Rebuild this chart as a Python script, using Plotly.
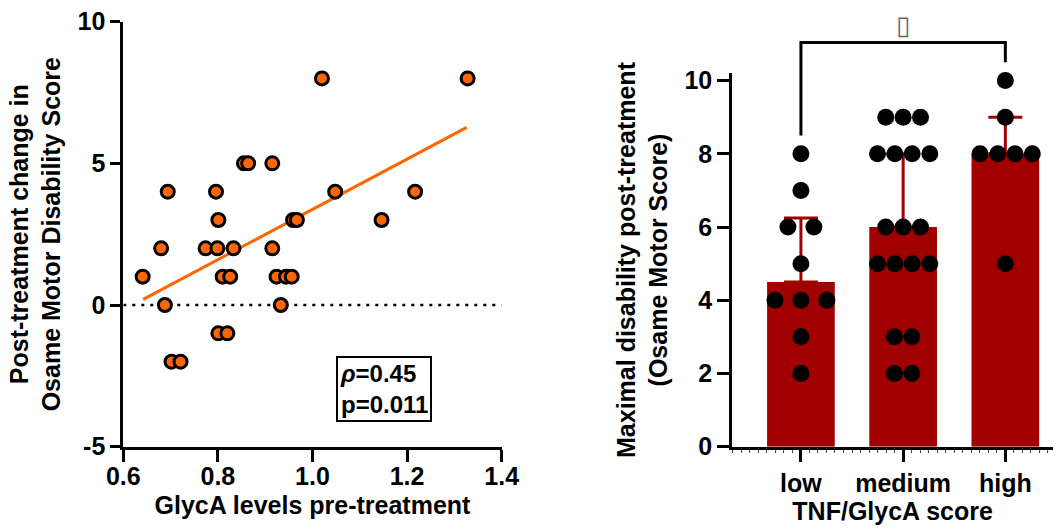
import plotly.graph_objects as go

# ---- left panel: GlycA pre-treatment vs change in Osame score ----
glyca = [1.020, 1.328, 0.855, 0.864, 0.915,
         0.694, 0.796, 1.048, 1.217,
         0.801, 0.959, 0.967, 1.146,
         0.680, 0.774, 0.799, 0.833, 0.915,
         0.641, 0.810, 0.826, 0.924, 0.944, 0.956,
         0.688, 0.933,
         0.801, 0.820,
         0.702, 0.721]
score_change = [8, 8, 5, 5, 5,
                4, 4, 4, 4,
                3, 3, 3, 3,
                2, 2, 2, 2, 2,
                1, 1, 1, 1, 1, 1,
                0, 0,
                -1, -1,
                -2, -2]
fit_x = [0.642, 1.326]
fit_y = [0.2, 6.27]
rho = 0.45
pval = 0.011
left_xticks = [0.6, 0.8, 1.0, 1.2, 1.4]
left_yticks = [-5, 0, 5, 10]

# ---- right panel: maximal disability by TNF/GlycA score ----
groups = ["low", "medium", "high"]
medians = [4.5, 6.0, 8.0]
upper_q = [6.25, 8.0, 9.0]
low_scores = [8, 7, 6, 6, 5, 4, 4, 4, 3, 2]
low_offsets = [0, 0, -0.127, 0.127, 0, -0.254, 0, 0.254, 0, 0]
medium_scores = [9, 9, 9, 8, 8, 8, 8, 6, 6, 6, 5, 5, 5, 5, 3, 3, 2, 2]
medium_offsets = [-0.17, 0, 0.17, -0.251, -0.081, 0.088, 0.261, -0.17, 0, 0.17,
                  -0.251, -0.081, 0.088, 0.261, -0.085, 0.085, -0.085, 0.085]
high_scores = [10, 9, 8, 8, 8, 8, 5]
high_offsets = [0, 0, -0.248, -0.074, 0.095, 0.264, 0]
right_yticks = [0, 2, 4, 6, 8, 10]

ORANGE = "#ff6600"
RED = "#a00000"
FONT = "Liberation Sans, Arial, sans-serif"

fig = go.Figure()

# dotted zero line
fig.add_trace(go.Scatter(x=[0.6, 1.4], y=[0, 0], mode="lines", xaxis="x", yaxis="y",
                         line=dict(color="black", width=2.5, dash="3px,6px"),
                         hoverinfo="skip", showlegend=False))
# regression line
fig.add_trace(go.Scatter(x=fit_x, y=fit_y, mode="lines", xaxis="x", yaxis="y",
                         line=dict(color=ORANGE, width=3), showlegend=False))
# data points
fig.add_trace(go.Scatter(x=glyca, y=score_change, mode="markers", xaxis="x", yaxis="y",
                         marker=dict(size=13, color=ORANGE, line=dict(color="black", width=3)),
                         cliponaxis=False, showlegend=False))

# bars with upper IQR whisker
fig.add_trace(go.Bar(x=[0, 1, 2], y=medians, width=0.662, xaxis="x2", yaxis="y2",
                     marker=dict(color=RED, line=dict(width=0)),
                     error_y=dict(type="data", symmetric=False,
                                  array=[u - m for u, m in zip(upper_q, medians)],
                                  arrayminus=[0, 0, 0], color=RED, thickness=3, width=17),
                     showlegend=False))

# individual dots
for i, (scores, offs) in enumerate([(low_scores, low_offsets),
                                    (medium_scores, medium_offsets),
                                    (high_scores, high_offsets)]):
    fig.add_trace(go.Scatter(x=[i + o for o in offs], y=scores, mode="markers",
                             xaxis="x2", yaxis="y2",
                             marker=dict(size=17, color="black"),
                             cliponaxis=False, showlegend=False))

# right panel geometry (y2 axis range 0..10.2 mapped on its domain)
y2_dom = [0.1588, 0.862]
y2_range = [0, 10.2]


def y2_to_paper(v):
    return y2_dom[0] + (v - y2_range[0]) / (y2_range[1] - y2_range[0]) * (y2_dom[1] - y2_dom[0])


# significance bracket low vs high
fig.add_shape(type="path", xref="x2", yref="paper",
              path=f"M 0 {y2_to_paper(8.5)} L 0 {y2_to_paper(11.04)} "
                   f"L 2 {y2_to_paper(11.04)} L 2 {y2_to_paper(10.5)}",
              line=dict(color="black", width=3))
fig.add_annotation(x=1, xref="x2", y=0.985, yref="paper", yanchor="top", text="▯",
                   showarrow=False,
                   font=dict(family="DejaVu Sans", size=26, color="#666666"))

# rho / p box
fig.add_annotation(x=1.152, y=-2.95, xref="x", yref="y", showarrow=False,
                   text=f"<i>ρ</i>={rho}<br>p={pval}", align="left",
                   font=dict(family=FONT, size=24, color="black", weight="bold"),
                   bordercolor="black", borderwidth=2, borderpad=2, bgcolor="white")

axis_common = dict(showline=True, linecolor="black", linewidth=3, ticks="outside",
                   tickwidth=3, tickcolor="black", showgrid=False, zeroline=False,
                   automargin=False,
                   tickfont=dict(family=FONT, size=25, color="black", weight="bold"))
title_font = dict(family=FONT, size=25, color="black", weight="bold")

fig.update_layout(
    width=1062, height=531,
    margin=dict(l=0, r=0, t=0, b=0),
    paper_bgcolor="white", plot_bgcolor="white",
    font=dict(family=FONT, size=25, color="black", weight="bold"),
    showlegend=False,
    xaxis=dict(domain=[0.1161, 0.4724], range=[0.6, 1.4], tickvals=left_xticks,
               ticktext=[f"{v:.1f}" for v in left_xticks], ticklen=12, anchor="y",
               ticklabelstandoff=-7,
               title=dict(text="GlycA levels pre-treatment", font=title_font, standoff=8),
               **axis_common),
    yaxis=dict(domain=[0.1588, 0.9591], range=[-5, 10], tickvals=left_yticks,
               ticktext=[str(v) for v in left_yticks], ticklen=10, anchor="x",
               title=dict(text="Post-treatment change in<br>Osame Motor Disability Score",
                          font=title_font, standoff=10),
               **axis_common),
    xaxis2=dict(domain=[0.6895, 0.9915], range=[-0.672, 2.466], tickvals=[0, 1, 2],
                ticktext=groups, ticklen=12, anchor="y2",
                minor=dict(tick0=0, dtick=1 / 12, ticks="outside", ticklen=3,
                           tickwidth=1, tickcolor="#444444"),
                title=dict(text="TNF/GlycA score", font=title_font, standoff=7),
                **axis_common),
    yaxis2=dict(domain=y2_dom, range=y2_range, tickvals=right_yticks,
                ticktext=[str(v) for v in right_yticks], ticklen=12, anchor="x2",
                title=dict(text="Maximal disability post-treatment<br>(Osame Motor Score)",
                           font=title_font, standoff=10),
                **axis_common),
)

fig.write_html("out.html", config={"displayModeBar": False},
               post_script="document.body.style.margin='0';")
